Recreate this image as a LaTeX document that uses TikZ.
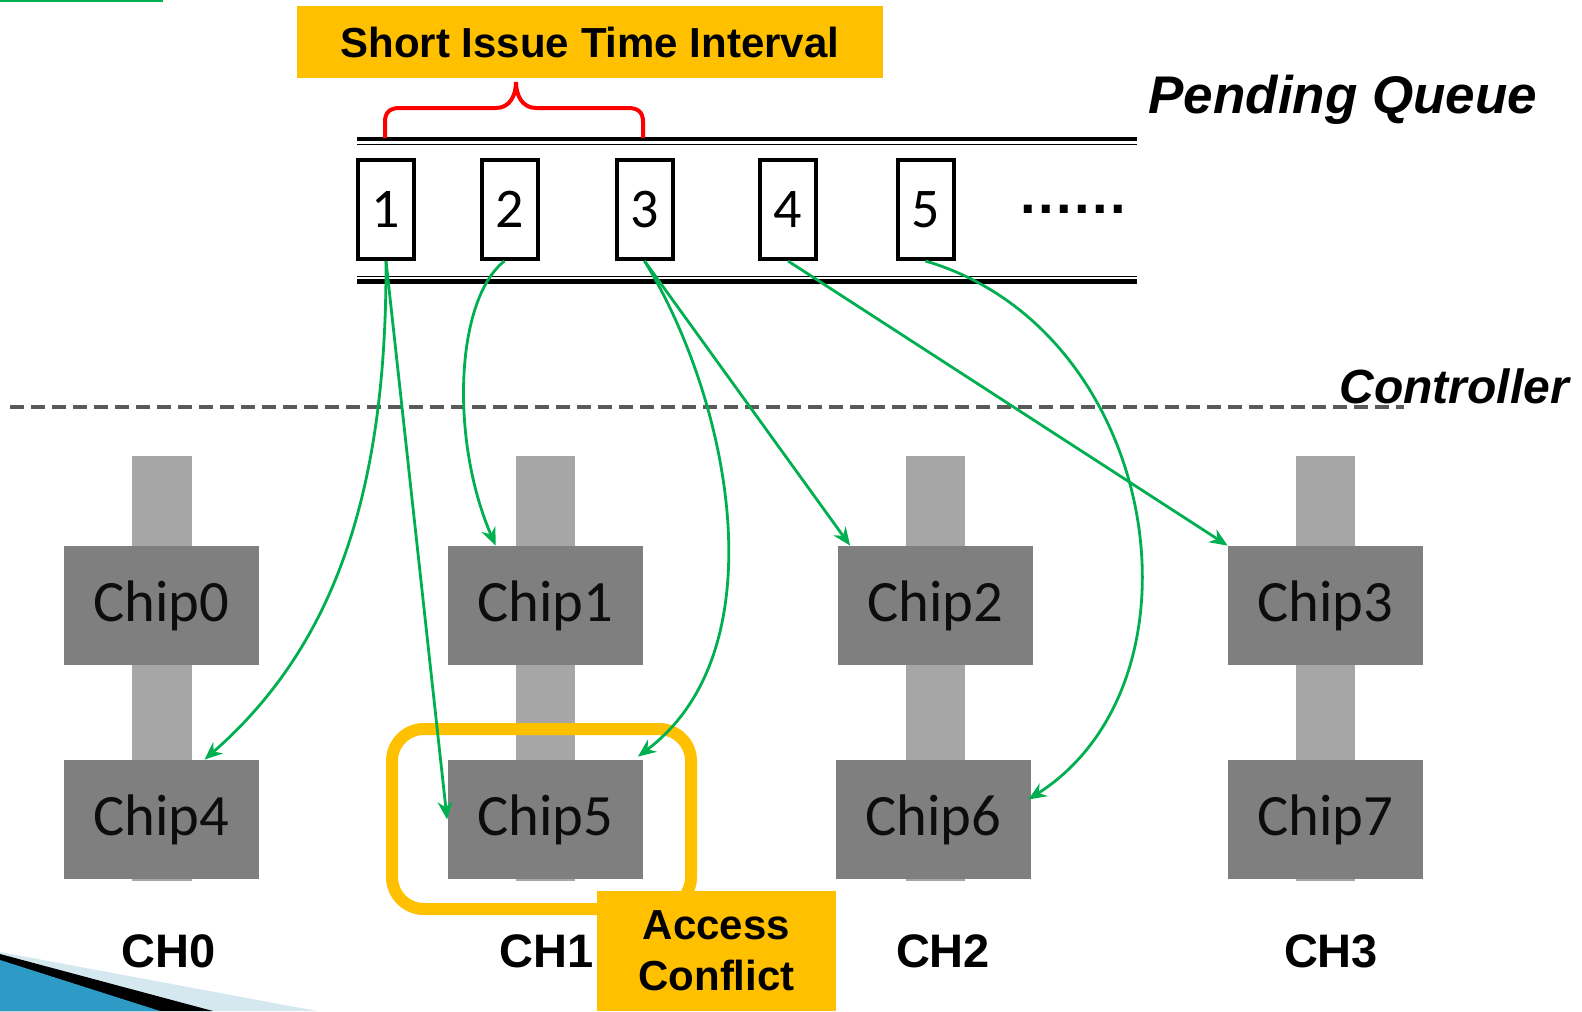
\documentclass[tikz,border=0pt]{standalone}
\usepackage{fontspec}
\setmainfont{Liberation Sans}
\newfontfamily\chipfont{Carlito}
\usetikzlibrary{arrows.meta}
\definecolor{garrow}{HTML}{00B050}
\definecolor{gold}{HTML}{FFC000}
\definecolor{chipgray}{HTML}{7F7F7F}
\definecolor{bargray}{HTML}{A6A6A6}
\definecolor{dashgray}{HTML}{5A5A5A}
\definecolor{swlight}{HTML}{D5E8F0}
\definecolor{swblue}{HTML}{2E9BC6}
\begin{document}
\begin{tikzpicture}[x=0.5pt,y=-0.5pt,
  chip/.style={rectangle, fill=chipgray, minimum width=97.5pt, minimum height=59.5pt, inner sep=0pt,
    font=\chipfont\fontsize{29.3}{30}\selectfont, text=black!95},
  chbar/.style={fill=bargray},
  qbox/.style={draw, line width=2pt, minimum width=28pt, minimum height=49.5pt, inner sep=0pt,
    font=\chipfont\fontsize{28}{30}\selectfont},
  flow/.style={draw=garrow, line width=1.4pt, -{Stealth[length=9pt,width=7.5pt]}},
  chlabel/.style={font=\bfseries\fontsize{23.5}{26}\selectfont, inner sep=0pt, anchor=base},
  goldbox/.style={fill=gold, inner sep=0pt, font=\bfseries\fontsize{21}{25.5}\selectfont, align=center}
]
\useasboundingbox (0,0) rectangle (1582,1011);

% bottom-left swoosh
\fill[swlight] (0,952) -- (317,1011) -- (0,1011) -- cycle;
\fill[black] (0,954) -- (213,1011) -- (0,1011) -- cycle;
\fill[swblue] (0,960) -- (160,1011) -- (0,1011) -- cycle;

% top-left green line
\draw[garrow, line width=1pt] (0,1) -- (163,1);

% controller dashed line
\draw[dashgray, line width=2pt, dash pattern=on 7pt off 3.5pt] (10,407) -- (1404,407);

% channel bars
\fill[chbar] (132,456) rectangle (192,881);
\fill[chbar] (516,456) rectangle (575,881);
\fill[chbar] (906,456) rectangle (965,881);
\fill[chbar] (1296,456) rectangle (1355,881);

% chips
\node[chip] (chip0) at (161.5,605.5) {Chip0};
\node[chip] (chip4) at (161.5,819.5) {Chip4};
\node[chip] (chip1) at (545.5,605.5) {Chip1};
\node[chip] (chip5) at (545,819.5) {Chip5};
\node[chip] (chip2) at (935,605.5) {Chip2};
\node[chip] (chip6) at (933.5,819.5) {Chip6};
\node[chip] (chip3) at (1325.5,605.5) {Chip3};
\node[chip] (chip7) at (1325,819.5) {Chip7};

% conflict highlight
\node[draw=gold, line width=6pt, rounded corners=16pt, minimum width=149.5pt, minimum height=90pt] (conflict) at (541.5,819) {};
\node[goldbox, minimum width=119.5pt, minimum height=60pt] (access) at (716.5,951) {Access\\Conflict};

% channel labels
\node[chlabel] (ch0) at (169,967) {CH0};
\node[chlabel] (ch1) at (547,967) {CH1};
\node[chlabel] (ch2) at (943,967) {CH2};
\node[chlabel] (ch3) at (1331,967) {CH3};

% queue rails
\draw[line width=2.2pt] (357,139) -- (1137,139);
\draw[line width=0.8pt] (357,144.5) -- (1137,144.5);
\draw[line width=0.8pt] (357,276.5) -- (1137,276.5);
\draw[line width=2.4pt] (357,281.5) -- (1137,281.5);

% queue entries
\node[qbox] (q1) at (386,209.5) {1};
\node[qbox] (q2) at (509.5,209.5) {2};
\node[qbox] (q3) at (644.5,209.5) {3};
\node[qbox] (q4) at (788,209.5) {4};
\node[qbox] (q5) at (925.5,209.5) {5};
\node[font=\bfseries\fontsize{28}{30}\selectfont, anchor=base, inner sep=0pt] (dots) at (1073,213) {.\kern1.2pt.\kern1.2pt.\kern1.2pt.\kern1.2pt.\kern1.2pt.};

% red brace
\draw[red, line width=2pt] (385,138) -- (385,122) .. controls (385,112) and (390,108) .. (400,108)
  -- (496,108) .. controls (510,108) and (516,95) .. (516,82)
  .. controls (516,95) and (522,108) .. (536,108)
  -- (628,108) .. controls (638,108) and (643,112) .. (643,122) -- (643,138);

% labels
\node[goldbox, minimum width=293pt, minimum height=36pt] (sitv) at (590,42) {Short Issue Time Interval};
\node[anchor=base west, font=\bfseries\itshape\fontsize{26.5}{28}\selectfont, inner sep=0pt] (pq) at (1148,113) {Pending Queue};
\node[anchor=base west, font=\bfseries\itshape\fontsize{24}{26}\selectfont, inner sep=0pt] (ctrl) at (1339,403) {Controller};

% request arrows
\draw[flow] (q1.south) .. controls (387,500) and (330,650) .. ([shift={(43,0)}]chip4.north);
\draw[flow] (q1.south) -- (chip5.west);
\draw[flow] ([shift={(-5,0)}]q2.south) .. controls (455,300) and (450,440) .. ([shift={(48,0)}]chip1.north west);
\draw[flow] (q3.south) .. controls (730,400) and (780,650) .. ([shift={(-5,-3)}]chip5.north east);
\draw[flow] (q3.south) -- ([shift={(13,0)}]chip2.north west);
\draw[flow] (q4.south) -- (chip3.north west);
\draw[flow] (q5.south) .. controls (1160,330) and (1215,680) .. ([shift={(-3,-20)}]chip6.east);
\end{tikzpicture}
\end{document}
